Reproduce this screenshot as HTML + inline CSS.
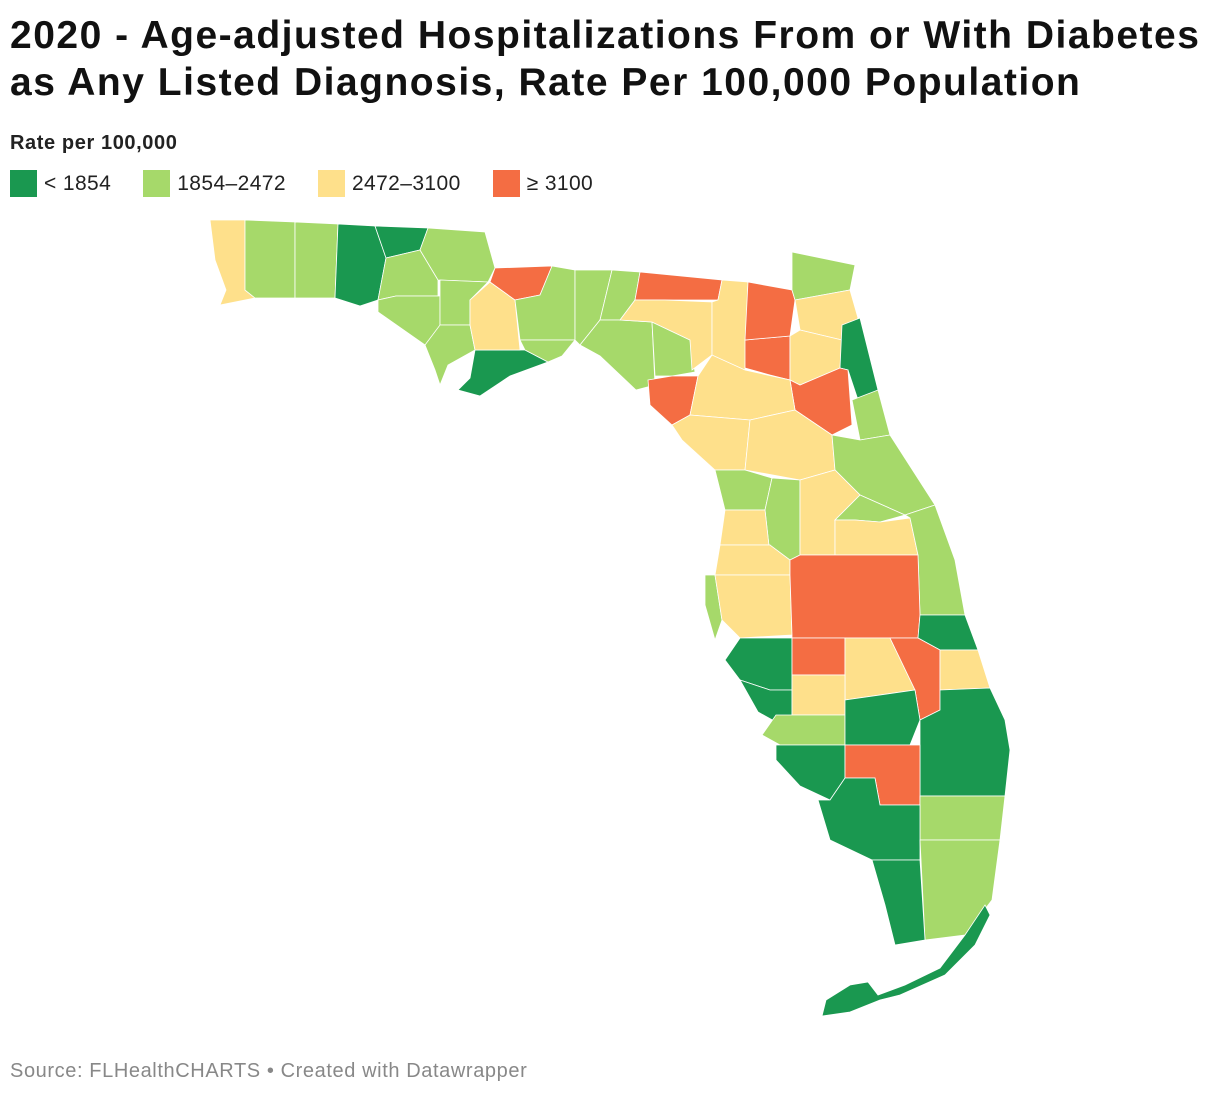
<!DOCTYPE html>
<html><head><meta charset="utf-8">
<style>
body{margin:0;background:#fff;font-family:"Liberation Sans",sans-serif;}
#wrap{position:relative;width:1220px;height:1098px;overflow:hidden;}
h1{position:absolute;left:10px;top:12px;margin:0;font-size:39px;line-height:47px;font-weight:bold;color:#111;letter-spacing:1.5px;white-space:nowrap;}
#lt{position:absolute;left:10px;top:132px;font-size:20px;font-weight:bold;color:#222;letter-spacing:0.6px;}
#legend{position:absolute;left:10px;top:170px;display:flex;font-size:21px;color:#222;letter-spacing:0.4px;}
.li{display:flex;align-items:center;margin-right:32px;}
.sw{width:27px;height:27px;margin-right:7px;}
#src{position:absolute;left:10px;top:1060px;font-size:20px;color:#888;letter-spacing:0.6px;}
svg{position:absolute;left:0;top:0;}
</style></head><body>
<div id="wrap">
<h1>2020 - Age-adjusted Hospitalizations From or With Diabetes<br>as Any Listed Diagnosis, Rate Per 100,000 Population</h1>
<div id="lt">Rate per 100,000</div>
<div id="legend">
<div class="li"><div class="sw" style="background:#1a9850"></div>&lt; 1854</div>
<div class="li"><div class="sw" style="background:#a6d96a"></div>1854–2472</div>
<div class="li"><div class="sw" style="background:#fee08b"></div>2472–3100</div>
<div class="li"><div class="sw" style="background:#f46d43"></div>≥ 3100</div>
</div>
<svg id="map" width="1220" height="1098"></svg>
<div id="src">Source: FLHealthCHARTS • Created with Datawrapper</div>
</div>
<script>
const counties=["Escambia","Santa Rosa","Okaloosa","Walton","Holmes","Washington","Jackson","Bay","Calhoun","Gulf","Franklin","Liberty","Gadsden","Leon","Wakulla","Jefferson","Madison","Taylor","Lafayette","Dixie","Hamilton","Suwannee","Columbia","Baker","Union","Nassau","Duval","Clay","St Johns","Putnam","Flagler","Alachua","Levy","Marion","Volusia","Citrus","Sumter","Lake","Seminole","Orange","Brevard","Hernando","Pasco","Pinellas","Hillsborough","Polk","St Lucie","Manatee","Hardee","Highlands","Okeechobee","Martin","Sarasota","DeSoto","Charlotte","Glades","Palm Beach","Lee","Hendry","Broward","Collier","Miami-Dade","Monroe","Monroe Keys"];
const values=[2800,2200,2100,1700,1750,2300,2150,2250,2350,2100,1800,2900,3300,2000,2050,2200,2150,2100,2300,3400,3350,2700,2850,3300,3250,2200,2700,2650,1650,3450,2100,2800,2750,2800,2250,2150,2200,2700,2300,2600,2100,2900,2750,2200,2800,3500,1700,1800,3300,2700,3500,2900,1750,2800,2200,1800,1750,1700,3400,2100,1700,2150,1650,1650];
const thresholds=[1854,2472,3100];
const colors=["#1a9850","#a6d96a","#fee08b","#f46d43"];
const shapes=[
"210,220 245,220 245,290 255,298 220,305 226,290 215,260",
"245,220 295,222 295,298 255,298 245,290",
"295,222 338,224 335,298 295,298",
"338,224 375,226 386,258 378,300 360,306 335,298",
"375,226 428,228 420,250 386,258",
"386,258 420,250 438,280 438,296 396,296 378,300",
"428,228 485,232 495,268 488,282 438,280 420,250",
"378,300 396,296 440,296 440,330 425,345 378,312",
"440,280 488,282 470,300 470,325 440,325 440,296",
"425,345 440,325 470,325 475,350 448,365 440,385 435,370",
"475,350 525,350 548,362 510,376 480,396 458,390 470,378",
"470,300 490,282 515,300 520,350 475,350 470,325",
"495,268 552,266 540,295 515,300 490,282",
"552,266 575,270 575,340 520,340 515,300 540,295",
"520,340 575,340 562,356 548,362 525,350",
"575,270 612,270 600,320 580,345 575,340",
"612,270 640,272 635,300 620,320 600,320",
"580,345 600,320 620,320 652,322 655,385 636,390 600,356",
"652,322 690,340 695,372 672,376 655,376",
"648,380 672,376 698,376 690,415 672,425 650,405",
"640,272 722,280 718,300 665,300 635,300",
"635,300 665,300 712,302 712,355 692,370 690,340 652,322 620,320",
"712,302 718,300 722,280 748,282 745,370 715,370 712,355",
"745,340 790,336 790,380 770,375 745,368",
"748,282 792,290 795,300 790,336 745,340",
"792,252 855,265 850,290 795,300 792,290",
"795,300 850,290 858,318 842,340 800,330",
"790,336 800,330 842,340 840,368 800,385 790,380",
"842,325 860,318 878,390 858,400 848,370 840,368",
"790,380 800,385 840,368 848,370 852,425 832,435 795,410",
"852,400 878,390 890,435 860,440",
"698,376 712,355 745,370 790,380 795,410 750,420 690,415",
"672,425 690,415 750,420 745,470 715,470 682,440",
"750,420 795,410 832,435 835,470 800,480 745,470",
"832,435 860,440 890,435 935,505 905,515 860,495 835,470",
"715,470 745,470 772,478 765,510 725,510",
"772,478 800,480 800,555 790,560 770,555 765,510",
"800,480 835,470 860,495 835,520 835,555 800,555",
"860,495 905,515 880,522 855,520 835,520",
"835,520 855,520 880,522 910,518 918,555 835,555",
"905,515 935,505 955,560 965,615 920,615 918,555 910,518",
"725,510 765,510 770,555 770,545 720,545",
"720,545 770,545 790,560 790,575 715,575",
"705,575 715,575 722,620 715,640 705,605",
"715,575 790,575 792,635 740,638 722,620",
"790,575 790,560 800,555 835,555 918,555 920,615 918,638 792,638 792,635",
"920,615 965,615 978,650 940,650 918,638",
"740,638 792,638 792,690 770,690 740,680 725,660",
"792,638 845,638 845,675 792,675",
"845,638 890,638 915,690 845,700 845,675",
"890,638 918,638 940,650 940,710 920,720 915,690",
"940,650 978,650 990,688 940,690",
"740,680 770,690 792,690 792,715 776,722 758,712",
"792,675 845,675 845,715 792,715",
"776,715 845,715 845,745 780,745 762,735",
"845,700 915,690 920,720 910,745 845,745",
"920,720 940,710 940,690 990,688 1005,720 1010,750 1005,796 920,796",
"776,745 845,745 845,778 830,800 800,786 776,760",
"845,745 910,745 920,745 920,805 880,805 875,778 845,778",
"920,796 1005,796 1000,840 920,840",
"830,800 845,778 875,778 880,805 920,805 920,860 872,860 830,840 818,800",
"920,840 1000,840 992,900 965,935 925,940",
"872,860 920,860 925,940 895,945 885,905",
"965,935 985,905 990,915 975,945 945,975 900,995 880,1000 850,1012 822,1016 826,1000 850,985 868,982 878,995 905,985 940,968"
];
function colorFor(v){let i=0;while(i<thresholds.length&&v>=thresholds[i])i++;return colors[i];}
const svg=document.getElementById('map');
const NS="http://www.w3.org/2000/svg";
counties.forEach((name,i)=>{
  const p=document.createElementNS(NS,'polygon');
  p.setAttribute('points',shapes[i]);
  p.setAttribute('fill',colorFor(values[i]));
  p.setAttribute('stroke','#fff');
  p.setAttribute('stroke-width','0.8');
  
  
  svg.appendChild(p);
});
</script>
</body></html>
